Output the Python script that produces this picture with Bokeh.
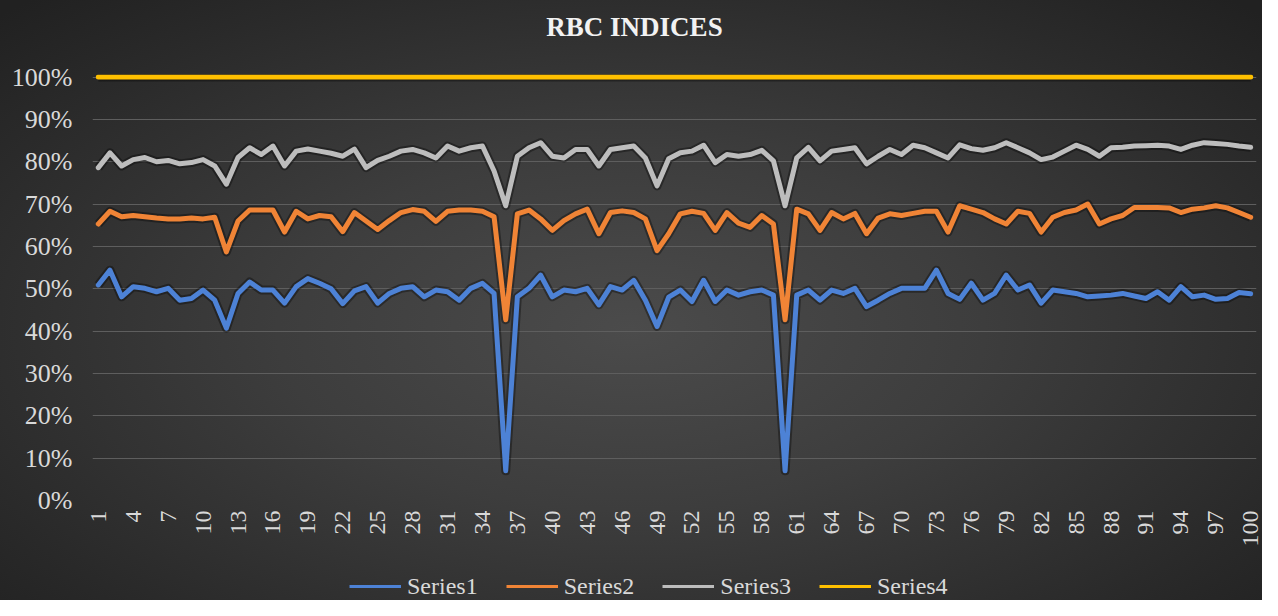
from math import pi
from bokeh.plotting import figure
from bokeh.layouts import column
from bokeh.models import (Range1d, FixedTicker, NumeralTickFormatter, Legend,
                          LegendItem, ColumnDataSource, Label)
from bokeh.embed import file_html
from bokeh.resources import INLINE

# ---------------- data (percent values) ----------------
categories = list(range(1, 101))

series1 = [50.9, 54.4, 48.1, 50.5, 50.1, 49.3, 50.1, 47.3, 47.7, 49.7,
           47.3, 40.7, 48.9, 51.6, 49.7, 49.7, 46.6, 50.5, 52.4, 51.3,
           50.0, 46.5, 49.5, 50.5, 46.6, 48.9, 50.1, 50.5, 48.1, 49.7,
           49.3, 47.3, 50.1, 51.3, 48.9, 7.0, 48.1, 50.1, 53.2, 48.1,
           49.7, 49.3, 50.1, 46.2, 50.5, 49.7, 52.0, 47.3, 41.1, 48.0,
           49.7, 47.0, 52.0, 47.0, 49.7, 48.5, 49.3, 49.7, 48.5, 7.0,
           48.5, 49.7, 47.3, 49.7, 48.9, 50.1, 45.8, 47.3, 48.9, 50.1,
           50.1, 50.1, 54.4, 48.9, 47.5, 51.3, 47.3, 48.9, 53.2, 49.7,
           50.9, 46.6, 49.7, 49.3, 48.9, 48.1, 48.3, 48.5, 48.9, 48.3,
           47.7, 49.3, 47.3, 50.5, 48.1, 48.5, 47.5, 47.7, 49.1, 48.8]

series2 = [65.3, 68.3, 67.0, 67.3, 67.0, 66.7, 66.5, 66.5, 66.7, 66.5,
           66.9, 58.7, 66.0, 68.6, 68.6, 68.6, 63.4, 68.3, 66.5, 67.3,
           67.0, 63.5, 68.0, 66.0, 64.0, 66.1, 68.0, 68.7, 68.3, 65.9,
           68.3, 68.6, 68.6, 68.3, 67.0, 42.7, 67.7, 68.6, 66.5, 63.8,
           66.1, 67.7, 68.8, 63.0, 68.0, 68.4, 68.0, 66.5, 59.0, 63.0,
           67.7, 68.3, 67.8, 63.8, 68.0, 65.5, 64.5, 67.3, 65.3, 42.7,
           68.8, 67.7, 63.8, 68.0, 66.5, 67.8, 63.0, 66.7, 67.7, 67.3,
           67.8, 68.3, 68.3, 63.4, 69.6, 68.8, 68.0, 66.5, 65.3, 68.3,
           67.8, 63.4, 66.9, 68.0, 68.6, 70.0, 65.3, 66.5, 67.3, 69.2,
           69.2, 69.2, 69.1, 68.0, 68.8, 69.1, 69.6, 69.1, 68.0, 66.9]

series3 = [78.6, 82.1, 79.0, 80.5, 81.0, 80.0, 80.3, 79.5, 79.8, 80.5,
           79.0, 74.7, 81.0, 83.3, 81.7, 83.7, 79.0, 82.5, 83.0, 82.5,
           82.0, 81.3, 83.0, 78.6, 80.3, 81.3, 82.5, 82.9, 82.1, 80.9,
           83.7, 82.5, 83.3, 83.7, 77.8, 69.6, 81.3, 83.3, 84.5, 81.3,
           80.9, 82.9, 82.9, 79.0, 82.9, 83.3, 83.7, 80.9, 74.3, 80.7,
           82.1, 82.5, 83.9, 79.8, 81.7, 81.3, 81.7, 82.7, 80.2, 69.6,
           80.9, 83.4, 80.2, 82.5, 82.9, 83.3, 79.5, 81.3, 82.9, 81.7,
           83.9, 83.3, 82.1, 80.9, 84.0, 83.1, 82.7, 83.3, 84.5, 83.3,
           82.1, 80.5, 81.1, 82.5, 83.9, 82.9, 81.3, 83.3, 83.4, 83.7,
           83.8, 83.9, 83.7, 82.9, 83.9, 84.5, 84.3, 84.1, 83.7, 83.4]

series4 = [100.0] * 100

series_names = ["Series1", "Series2", "Series3", "Series4"]
series_colors = ["#4d82d6", "#f08436", "#bdbdbd", "#ffc000"]

x_tick_values = list(range(1, 101, 3))
y_tick_values = [0.0, 0.1, 0.2, 0.3, 0.4, 0.5, 0.6, 0.7, 0.8, 0.9, 1.0]
title_text = "RBC INDICES"

FONT = "Liberation Serif"
W = 1262
FRAME_L, FRAME_R = 92, 1256   # frame edges shared by all stacked strips


def bare(fig):
    fig.border_fill_color = None
    fig.background_fill_color = None
    fig.outline_line_color = None
    fig.grid.visible = False


# ---------------- title strip ----------------
tf = figure(width=W, height=52, output_backend="svg", toolbar_location=None,
            x_range=Range1d(FRAME_L, FRAME_R), y_range=Range1d(0, 52),
            x_axis_location=None, y_axis_location=None,
            min_border_left=FRAME_L, min_border_right=W - FRAME_R,
            min_border_top=0, min_border_bottom=0)
bare(tf)
tf.add_layout(Label(x=634, y=26, text=title_text, text_font=FONT,
                    text_font_size="27px", text_font_style="bold",
                    text_color="#f2f2f2", text_align="center",
                    text_baseline="middle"))

# ---------------- main chart ----------------
p = figure(width=W, height=520, output_backend="svg", toolbar_location=None,
           x_range=Range1d(0.5, 100.5), y_range=Range1d(0, 1.006),
           min_border_left=FRAME_L, min_border_right=W - FRAME_R,
           min_border_top=22, min_border_bottom=72)
p.border_fill_color = None
p.background_fill_color = None
p.outline_line_color = None

p.xgrid.grid_line_color = None
p.ygrid.grid_line_color = "#5e5e5e"
p.ygrid.grid_line_width = 1

p.yaxis.ticker = FixedTicker(ticks=y_tick_values)
p.yaxis.formatter = NumeralTickFormatter(format="0%")
p.yaxis.axis_line_color = None
p.yaxis.major_tick_line_color = None
p.yaxis.minor_tick_line_color = None
p.yaxis.major_tick_out = 0
p.yaxis.major_label_text_font = FONT
p.yaxis.major_label_text_font_size = "26px"
p.yaxis.major_label_text_color = "#d9d9d9"
p.yaxis.major_label_standoff = 20

p.xaxis.ticker = FixedTicker(ticks=x_tick_values)
p.xaxis.axis_line_color = None
p.xaxis.major_tick_line_color = None
p.xaxis.minor_tick_line_color = None
p.xaxis.major_tick_out = 0
p.xaxis.major_label_text_font = FONT
p.xaxis.major_label_text_font_size = "24px"
p.xaxis.major_label_text_color = "#d9d9d9"
p.xaxis.major_label_orientation = pi / 2
p.xaxis.major_label_standoff = 10

all_series = [series1, series2, series3, series4]
for vals in all_series:
    src = ColumnDataSource(data=dict(x=categories, y=[v / 100.0 for v in vals]))
    p.line("x", "y", source=src, line_color="#000000", line_alpha=0.35,
           line_width=9, line_join="round")
for vals, col in zip(all_series, series_colors):
    src = ColumnDataSource(data=dict(x=categories, y=[v / 100.0 for v in vals]))
    p.line("x", "y", source=src, line_color=col, line_width=5,
           line_join="round", line_cap="round")

# ---------------- legend strip ----------------
lf = figure(width=W, height=28, output_backend="svg", toolbar_location=None,
            x_range=Range1d(0, 1), y_range=Range1d(0, 1),
            x_axis_location=None, y_axis_location=None,
            min_border_left=FRAME_L, min_border_right=W - FRAME_R,
            min_border_top=0, min_border_bottom=0)
bare(lf)
# legend key renderers: their points lie outside the strip's range, only the key shows
leg_renderers = [lf.line(x=[-5, -4], y=[-5, -4], line_color=c, line_width=3)
                 for c in series_colors]
legend = Legend(items=[LegendItem(label=n, renderers=[r]) for n, r in zip(series_names, leg_renderers)],
                orientation="horizontal", location=(349 - FRAME_L, 0),
                label_text_font=FONT, label_text_font_size="24px",
                label_text_color="#d9d9d9", glyph_width=52, glyph_height=28,
                label_height=28, label_standoff=6, spacing=28, padding=0,
                margin=0, border_line_color=None, background_fill_alpha=0)
lf.add_layout(legend)

layout = column(tf, p, lf, spacing=0)
layout.styles = {"background": "radial-gradient(ellipse 70% 75% at 50% 55%, #4b4b4b 0%, #3d3d3d 40%, #2a2a2a 80%, #212121 100%)"}

open("out.html", "w").write(file_html(layout, INLINE))
